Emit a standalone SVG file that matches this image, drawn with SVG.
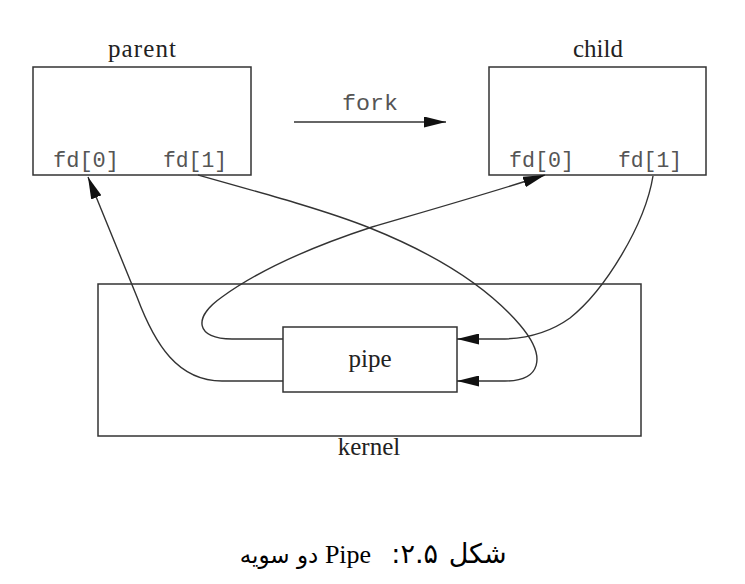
<svg xmlns="http://www.w3.org/2000/svg" width="745" height="584" viewBox="0 0 745 584">
<style>
.box{fill:none;stroke:#333;stroke-width:1.5}
.lbl{font-family:"Liberation Serif","Times New Roman",serif;font-size:25px;fill:#222}
.mono{font-family:"Liberation Mono","Courier New",monospace;font-size:22px;fill:#555}
.conn{fill:none;stroke:#333;stroke-width:1.4}
.cap{font-family:"DejaVu Sans",sans-serif;font-size:23px;fill:#000}
.cap2{font-family:"DejaVu Sans",sans-serif;font-size:27px;word-spacing:2px;fill:#000}
.lat{font-family:"Liberation Serif","Times New Roman",serif;font-size:26px;fill:#000}
</style>
<defs>
<marker id="ah" markerUnits="userSpaceOnUse" markerWidth="22" markerHeight="11" refX="22" refY="5.5" orient="auto">
<path d="M0,0 L22,5.5 L0,11 z" fill="#111"/>
</marker>
</defs>
<rect width="745" height="584" fill="#fff"/>
<g id="parent">
<rect class="box" x="33" y="67" width="218" height="108"/>
<text class="lbl" x="142" y="57" text-anchor="middle" textLength="68" lengthAdjust="spacing">parent</text>
<text class="mono" x="53" y="167" textLength="66" lengthAdjust="spacingAndGlyphs">fd[0]</text>
<text class="mono" x="163" y="167" textLength="64" lengthAdjust="spacingAndGlyphs">fd[1]</text>
</g>
<g id="child">
<rect class="box" x="489" y="67" width="217" height="108"/>
<text class="lbl" x="598" y="57" text-anchor="middle">child</text>
<text class="mono" x="509" y="167" textLength="65" lengthAdjust="spacingAndGlyphs">fd[0]</text>
<text class="mono" x="618" y="167" textLength="64" lengthAdjust="spacingAndGlyphs">fd[1]</text>
</g>
<g id="kernel">
<rect class="box" x="98" y="284" width="543" height="152"/>
<text class="lbl" x="369" y="455" text-anchor="middle">kernel</text>
</g>
<g id="pipe">
<rect class="box" x="283" y="327" width="174" height="65"/>
<text class="lbl" x="370" y="367" text-anchor="middle">pipe</text>
</g>
<g id="fork">
<text class="mono" x="342" y="110" textLength="56" lengthAdjust="spacingAndGlyphs">fork</text>
</g>
<g id="connectors">
<path class="conn" d="M294,122 H446" marker-end="url(#ah)"/>
<path class="conn" d="M283,381 H222 C178,381 155,345 137,297 L88,177" marker-end="url(#ah)"/>
<path class="conn" d="M283,339 H232 C196,339 192,318 222,297 C262,268 320,244 372,227 C430,210 500,190 545,175" marker-end="url(#ah)"/>
<path class="conn" d="M198,175 C280,198 330,212 370,228 C440,256 490,290 520,325 C548,358 540,381 505,381 H457" marker-end="url(#ah)"/>
<path class="conn" d="M653,176 C645,225 605,290 570,318 C545,336 520,339 500,339 H457" marker-end="url(#ah)"/>
</g>
<g id="caption">
<text class="cap" x="279" y="563" text-anchor="middle" direction="rtl">دو سویه</text>
<text class="lat" x="348" y="563" text-anchor="middle">Pipe</text>
<text class="cap2" x="449" y="563" text-anchor="middle" direction="rtl">شکل ۲.۵:</text>
</g>
</svg>
